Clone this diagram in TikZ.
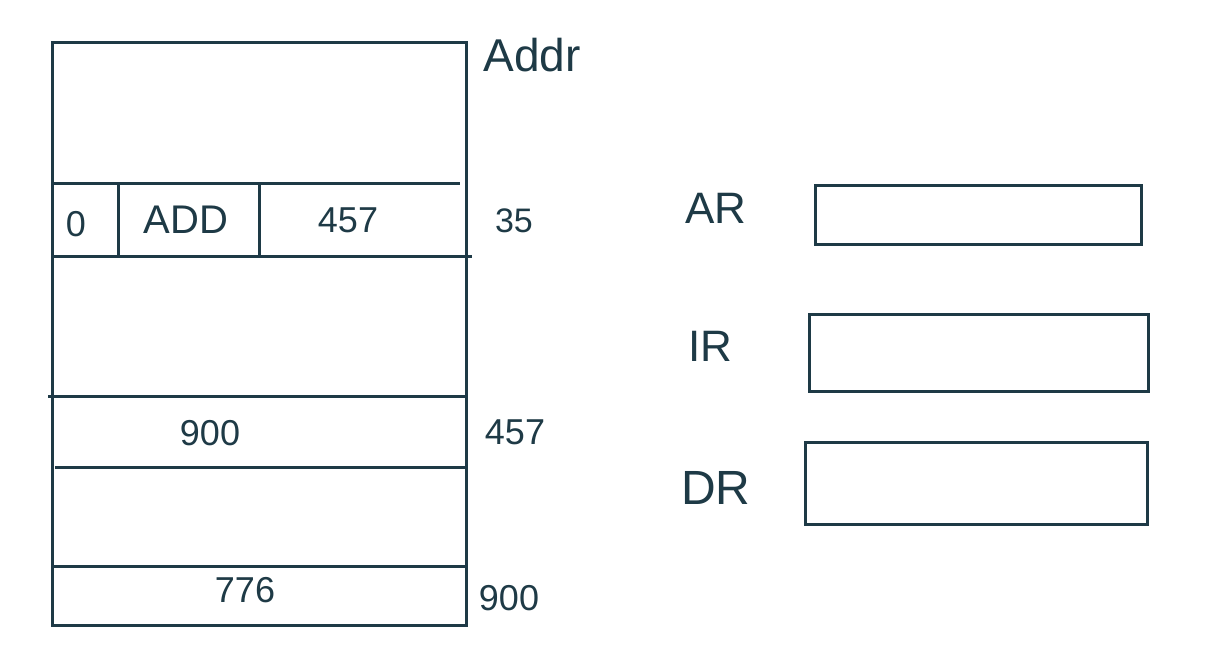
\documentclass[tikz,border=0pt]{standalone}
\usepackage{fontspec}
\setmainfont{Liberation Sans}
\definecolor{ink}{HTML}{1E3A46}
\begin{document}
\begin{tikzpicture}[x=1pt,y=-1pt,
  line/.style={draw=ink,line width=3pt},
  lbl/.style={text=ink,inner sep=0pt,font=\fontsize{40}{44}\selectfont},
  num/.style={text=ink,inner sep=0pt,font=\fontsize{36}{40}\selectfont},
  reg/.style={draw=ink,line width=3pt,inner sep=0pt,anchor=north west}]
\useasboundingbox[fill=white] (0,0) rectangle (1227,665);
% memory frame
\node[reg,minimum width=414pt,minimum height=583pt] (mem) at (51,41) {};
% horizontal lines
\coordinate (h1a) at (51,183); \coordinate (h1b) at (460,183);
\coordinate (h2a) at (51,256); \coordinate (h2b) at (472,256);
\coordinate (h3a) at (48,396); \coordinate (h3b) at (465,396);
\coordinate (h4a) at (55,467); \coordinate (h4b) at (465,467);
\coordinate (h5a) at (51,566); \coordinate (h5b) at (465,566);
\draw[line] (h1a) -- (h1b);
\draw[line] (h2a) -- (h2b);
\draw[line] (h3a) -- (h3b);
\draw[line] (h4a) -- (h4b);
\draw[line] (h5a) -- (h5b);
% vertical dividers in instruction word
\coordinate (v1a) at (118,183); \coordinate (v1b) at (118,258);
\coordinate (v2a) at (259,183); \coordinate (v2b) at (259,256);
\draw[line] (v1a) -- (v1b);
\draw[line] (v2a) -- (v2b);
% memory contents
\node[num] (i) at (76,224) {0};
\node[lbl] (op) at (186,220) {ADD};
\node[num] (ad) at (348,220) {457};
\node[num] (m457) at (210,433) {900};
\node[num] (m900) at (245,590) {776};
% addresses
\node[lbl,font=\fontsize{46}{50}\selectfont] (addr) at (532,55) {Addr};
\node[num,font=\fontsize{34}{38}\selectfont] (a35) at (514,221) {35};
\node[num] (a457) at (515,432) {457};
\node[num] (a900) at (509,598) {900};
% registers
\node[reg,minimum width=326pt,minimum height=59pt] (AR) at (814,184) {};
\node[reg,minimum width=339pt,minimum height=77pt] (IR) at (808,313) {};
\node[reg,minimum width=342pt,minimum height=82pt] (DR) at (804,441) {};
\node[lbl,font=\fontsize{44}{48}\selectfont] (lAR) at (716,208) {AR};
\node[lbl,font=\fontsize{44}{48}\selectfont] (lIR) at (710,346) {IR};
\node[lbl,font=\fontsize{48}{52}\selectfont] (lDR) at (716,488) {DR};
\end{tikzpicture}
\end{document}
